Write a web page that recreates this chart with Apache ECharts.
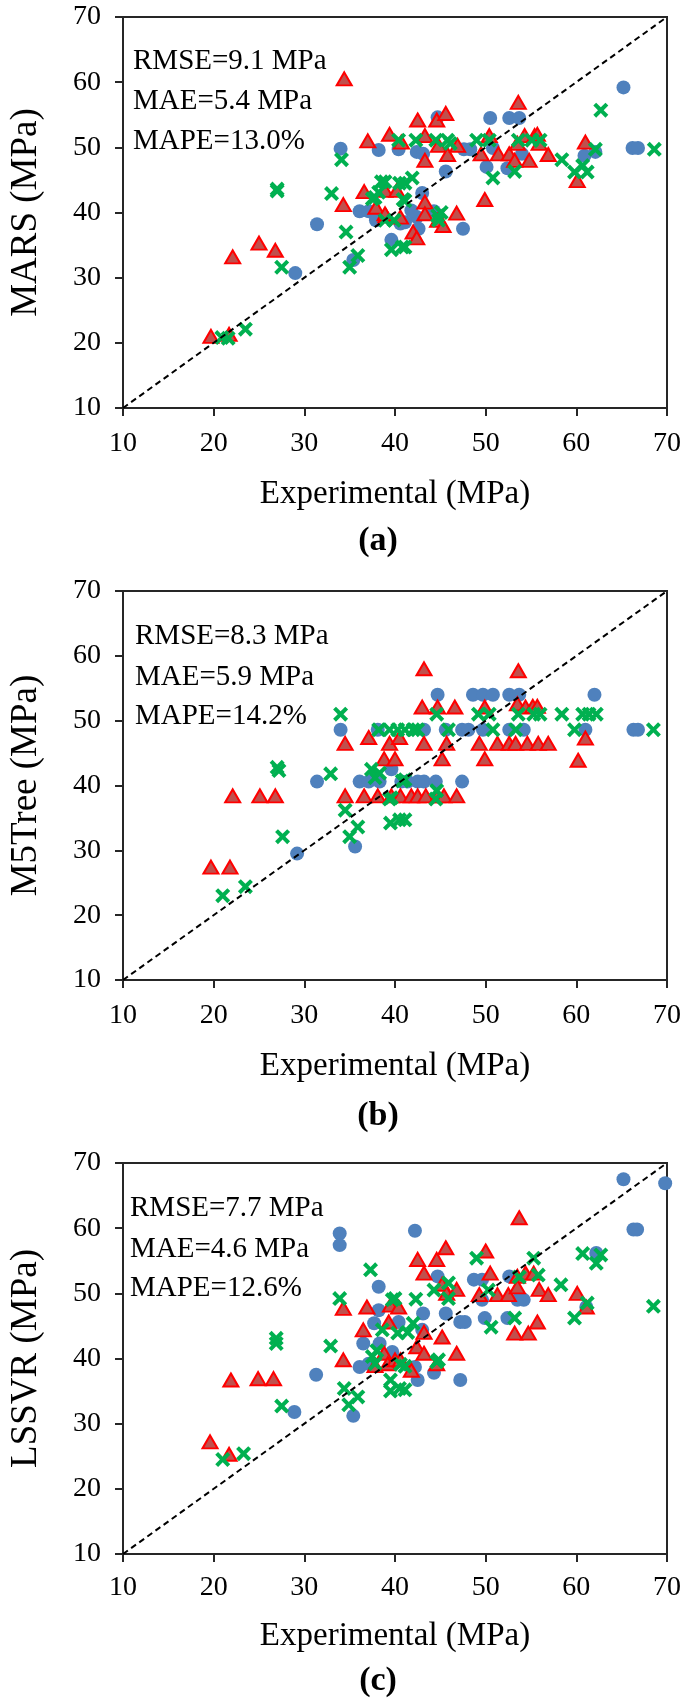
<!DOCTYPE html>
<html><head><meta charset="utf-8">
<script src="https://cdn.jsdelivr.net/npm/echarts@6/dist/echarts.min.js"></script>
<style>html,body{margin:0;padding:0;background:#fff}#c{width:685px;height:1701px}</style>
</head><body><div id="c"></div>
<script>
// ---------- data ----------
const axisMin = 10, axisMax = 70, axisStep = 10;
const yNames = ['MARS (MPa)', 'M5Tree (MPa)', 'LSSVR (MPa)'];
const xName = 'Experimental (MPa)';
const captions = ['(a)', '(b)', '(c)'];
const statsA = ['RMSE=9.1 MPa', 'MAE=5.4 MPa', 'MAPE=13.0%'];
const statsB = ['RMSE=8.3 MPa', 'MAE=5.9 MPa', 'MAPE=14.2%'];
const statsC = ['RMSE=7.7 MPa', 'MAE=4.6 MPa', 'MAPE=12.6%'];
const identityLine = [[10, 10], [70, 70]];

// Panel (a) MARS
const aBlue = [[34.0,49.8],[38.2,49.6],[40.4,49.7],[31.4,38.2],[29.0,30.7],[35.4,32.7],[36.1,40.2],[37.1,40.2],[37.9,38.8],[39.6,35.8],[40.6,38.3],
 [44.7,54.6],[42.4,49.3],[43.1,49.0],[45.6,46.3],[47.6,49.7],[48.3,49.7],[50.5,54.5],[52.6,54.5],[53.7,54.5],[50.1,47.0],[52.4,46.8],[54.0,49.0],[50.8,49.9],
 [60.9,48.7],[62.1,49.3],[65.2,59.2],[66.2,49.9],[66.8,49.9],[43.0,43.0],[42.4,39.3],[42.6,37.5],[41.1,38.5],[44.3,40.2],[47.5,37.5],[41.8,40.3]];
const aRed = [[34.4,60.5],[22.1,33.2],[25.0,35.3],[26.8,34.2],[19.7,21.0],[21.7,21.3],[34.3,41.2],[37.0,51.0],[39.4,52.0],[36.6,43.2],[38.9,43.4],[40.2,43.4],
 [37.9,40.8],[39.0,39.5],[40.6,39.3],[40.7,50.8],[42.5,54.2],[43.3,51.8],[43.3,48.0],[44.6,54.2],[45.6,55.2],[44.8,50.3],[45.8,48.9],[46.9,50.3],[38.9,39.8],
 [43.3,41.6],[43.3,39.8],[44.7,38.8],[45.3,38.0],[46.8,39.9],[42.0,37.0],[42.4,36.1],[49.9,42.0],[49.5,49.0],[50.4,51.8],[51.4,49.0],[52.6,49.0],[53.2,48.0],
 [53.6,56.9],[53.5,50.6],[54.3,51.8],[55.4,51.8],[55.7,52.0],[55.9,50.6],[54.8,48.0],[56.9,48.9],[60.1,44.9],[61.0,50.8]];
const aGreen = [[34.1,48.1],[27.0,43.6],[27.0,43.3],[27.5,31.6],[20.9,20.8],[21.6,20.7],[23.5,22.1],[33.0,42.9],[34.6,37.0],[35.0,31.6],[35.9,33.4],[37.8,42.3],
 [38.2,43.1],[38.5,44.7],[37.5,42.1],[40.4,51.1],[39.9,38.8],[39.6,34.3],[40.5,44.5],[40.9,42.0],[40.8,34.7],[42.3,51.1],[44.5,51.1],[45.8,51.1],[46.1,50.6],
 [49.0,51.1],[50.4,51.1],[53.6,51.1],[55.1,51.1],[56.0,51.1],[38.9,44.7],[41.1,44.5],[41.9,45.3],[41.1,41.8],[38.9,38.8],[44.7,39.5],[45.1,40.0],[44.8,38.8],
 [41.1,34.7],[50.8,45.3],[53.2,46.3],[58.4,48.1],[59.8,46.2],[60.7,47.2],[61.2,46.2],[62.1,49.7],[62.7,55.7],[68.6,49.7]];

// Panel (b) M5Tree
const bBlue = [[34.0,48.6],[38.1,48.6],[31.4,40.6],[29.2,29.5],[35.6,30.6],[36.1,40.6],[37.1,40.6],[38.3,40.6],[39.6,42.5],[40.7,40.6],
 [44.7,54.0],[48.6,54.0],[49.7,54.0],[50.8,54.0],[52.6,54.0],[53.7,54.0],[62.0,54.0],[43.2,48.6],[45.6,48.6],[47.4,48.6],[48.1,48.6],[49.7,48.6],[52.6,48.6],
 [54.2,48.6],[61.0,48.6],[66.3,48.6],[66.8,48.6],[41.4,40.6],[42.5,40.6],[43.2,40.6],[44.5,40.6],[47.4,40.6]];
const bRed = [[19.7,27.4],[21.8,27.4],[22.1,38.4],[25.1,38.4],[26.8,38.4],[34.5,46.5],[34.5,38.4],[37.1,47.4],[36.6,38.4],[38.1,38.4],[38.8,44.1],[40.0,44.1],
 [39.4,46.5],[40.5,47.4],[39.6,38.4],[40.6,38.4],[43.2,58.0],[53.6,57.7],[43.0,52.1],[44.7,52.1],[46.6,52.1],[49.9,52.1],[53.5,52.6],[54.4,52.1],[55.2,52.2],
 [55.7,52.2],[43.2,46.5],[45.7,46.5],[49.3,46.5],[51.3,46.5],[52.6,46.5],[53.3,46.5],[54.6,46.5],[55.8,46.5],[56.9,46.5],[61.0,47.3],[45.2,44.1],[49.9,44.1],
 [60.2,43.9],[41.8,38.4],[42.5,38.4],[43.4,38.4],[44.7,38.4],[45.4,38.4],[46.8,38.4]];
const bGreen = [[34.0,51.0],[27.0,42.8],[27.2,42.3],[32.9,41.8],[27.6,32.1],[21.0,23.0],[23.5,24.4],[34.5,36.2],[35.0,32.1],[35.9,33.6],[37.4,42.5],[37.8,41.2],
 [38.3,41.9],[38.2,48.6],[39.4,48.6],[40.3,48.6],[39.4,37.9],[39.5,34.2],[40.5,34.7],[40.8,40.7],[41.1,48.6],[42.0,48.6],[42.5,48.6],[45.9,48.6],[50.8,48.6],
 [53.3,48.6],[59.8,48.6],[68.5,48.6],[44.6,51.0],[49.2,51.0],[50.4,51.0],[53.6,51.0],[55.3,51.0],[56.0,51.0],[58.4,51.0],[60.7,51.0],[61.4,51.0],[62.2,51.0],
 [41.1,40.9],[44.6,39.2],[44.5,37.9],[39.6,38.1],[41.1,34.7]];

// Panel (c) LSSVR
const cBlue = [[33.9,59.2],[33.9,57.4],[38.2,51.0],[38.2,47.4],[37.7,45.4],[36.5,42.3],[38.3,42.3],[40.4,45.6],[39.7,41.0],[36.1,38.7],[37.1,39.2],[31.3,37.5],
 [28.9,31.8],[35.4,31.2],[65.2,67.5],[69.8,66.9],[66.3,59.8],[66.7,59.8],[42.2,59.6],[62.2,56.2],[44.7,52.6],[48.7,52.1],[49.6,52.1],[52.6,52.6],[49.6,49.0],
 [53.5,49.0],[54.2,49.0],[61.1,47.9],[43.1,46.9],[45.6,46.9],[47.2,45.6],[47.7,45.6],[49.9,46.2],[52.4,46.2],[43.0,44.4],[42.2,38.7],[42.5,36.7],[44.3,37.8],[47.2,36.7]];
const cRed = [[19.6,27.2],[21.7,25.3],[21.9,36.7],[24.9,36.9],[26.6,36.9],[34.3,39.8],[34.3,47.7],[36.9,47.9],[36.5,44.4],[39.3,45.6],[39.5,48.2],[40.4,47.9],
 [38.8,40.8],[39.2,39.2],[37.8,38.9],[40.0,39.8],[53.7,61.6],[45.6,57.0],[50.0,56.5],[42.5,55.2],[44.6,55.2],[43.2,53.1],[50.5,53.1],[53.5,52.6],[54.4,53.1],
 [55.3,53.1],[45.2,51.4],[45.7,50.0],[46.8,50.6],[49.3,49.8],[51.3,49.8],[52.5,49.8],[53.5,51.0],[55.9,50.6],[56.9,49.8],[60.1,50.0],[61.1,47.9],[55.7,45.6],
 [53.2,43.9],[54.7,43.9],[43.2,44.0],[45.2,43.3],[42.4,41.8],[43.2,40.8],[46.8,40.8],[44.6,39.2],[41.8,38.2],[40.6,39.8]];
const cGreen = [[37.3,53.6],[33.9,49.2],[26.9,43.1],[26.9,42.3],[32.9,41.9],[27.5,32.7],[21.0,24.5],[23.3,25.4],[34.4,35.4],[34.9,32.9],[35.9,34.1],[37.5,40.3],
 [38.0,41.2],[38.6,44.4],[37.8,39.2],[39.5,36.7],[39.5,35.0],[40.5,35.4],[39.7,49.0],[40.0,49.2],[40.3,43.9],[40.6,39.1],[49.0,55.4],[55.3,55.4],[60.7,56.1],
 [62.7,55.9],[62.2,54.6],[53.7,52.5],[55.8,52.8],[58.3,51.3],[42.3,49.1],[44.3,50.5],[45.9,51.6],[45.9,49.2],[50.3,50.5],[53.2,46.2],[50.6,44.8],[59.8,46.2],
 [61.2,48.5],[68.5,48.0],[42.0,45.4],[41.4,44.0],[44.8,39.8],[44.6,39.5],[41.1,38.8],[41.1,35.2]];

// ---------- chart ----------
const FONT = '"Liberation Serif", "Times New Roman", serif';
const AX = '#262626';
const panels = [
  {grid: {left: 112, top: 17, width: 555, height: 391}, blue: aBlue, red: aRed, green: aGreen, stats: statsA,
   statX: 133, statY: [61, 101.5, 141.5], labelMargin: 22, nameGap: 70, capY: 541},
  {grid: {left: 113, top: 591, width: 554, height: 389}, blue: bBlue, red: bRed, green: bGreen, stats: statsB,
   statX: 135, statY: [636.5, 677, 716.5], labelMargin: 22, nameGap: 70, capY: 1116},
  {grid: {left: 112, top: 1163, width: 555, height: 391}, blue: cBlue, red: cRed, green: cGreen, stats: statsC,
   statX: 130, statY: [1208, 1249, 1288], labelMargin: 20, nameGap: 66, capY: 1681}
];
const xSymbol = 'path://M0,19 L19,0 L50,31 L81,0 L100,19 L69,50 L100,81 L81,100 L50,69 L19,100 L0,81 L31,50 Z';

const grids = [], xAxes = [], yAxes = [], series = [], graphics = [];
panels.forEach((p, i) => {
  grids.push(Object.assign({show: true, borderColor: AX, borderWidth: 2, backgroundColor: 'transparent', containLabel: false}, p.grid));
  const common = {
    type: 'value', gridIndex: i, min: axisMin, max: axisMax, interval: axisStep,
    axisLine: {show: true, lineStyle: {color: AX, width: 2}},
    axisTick: {show: true, inside: false, length: 8, lineStyle: {color: AX, width: 2}},
    splitLine: {show: false},
    nameLocation: 'middle'
  };
  xAxes.push(Object.assign({}, common, {
    name: xName, nameGap: p.nameGap,
    nameTextStyle: {fontFamily: FONT, fontSize: 33, color: '#000'},
    axisLabel: {fontFamily: FONT, fontSize: 28, color: '#000', margin: p.labelMargin}
  }));
  yAxes.push(Object.assign({}, common, {
    name: yNames[i], nameGap: 78,
    nameTextStyle: {fontFamily: FONT, fontSize: 37, color: '#000'},
    axisLabel: {fontFamily: FONT, fontSize: 28, color: '#000', margin: 22}
  }));
  series.push({type: 'scatter', xAxisIndex: i, yAxisIndex: i, data: p.blue, symbol: 'circle', symbolSize: 14,
    itemStyle: {color: '#4F81BD', opacity: 1}, clip: false, z: 2});
  series.push({type: 'scatter', xAxisIndex: i, yAxisIndex: i, data: p.red, symbol: 'triangle', symbolSize: [15, 13],
    itemStyle: {color: '#C0504D', borderColor: '#FF0000', borderWidth: 2, opacity: 1}, clip: false, z: 3});
  series.push({type: 'scatter', xAxisIndex: i, yAxisIndex: i, data: p.green, symbol: xSymbol, symbolSize: 15,
    itemStyle: {color: '#00B050', opacity: 1}, clip: false, z: 4});
  series.push({type: 'line', xAxisIndex: i, yAxisIndex: i, data: identityLine, symbol: 'none',
    lineStyle: {color: '#000', width: 2, type: [6, 4]}, z: 5, silent: true});
  p.stats.forEach((t, k) => {
    graphics.push({type: 'text', x: p.statX, y: p.statY[k], z: 10,
      style: {text: t, font: '29px ' + FONT, fill: '#000', textAlign: 'left', textVerticalAlign: 'middle'}});
  });
  graphics.push({type: 'text', x: 378, y: p.capY, z: 10,
    style: {text: captions[i], font: 'bold 34px ' + FONT, fill: '#000', textAlign: 'center', textVerticalAlign: 'middle'}});
});

const chart = echarts.init(document.getElementById('c'), null, {renderer: 'canvas', width: 685, height: 1701});
chart.setOption({
  animation: false,
  backgroundColor: '#fff',
  grid: grids, xAxis: xAxes, yAxis: yAxes, series: series, graphic: graphics
});
</script>
</body></html>
